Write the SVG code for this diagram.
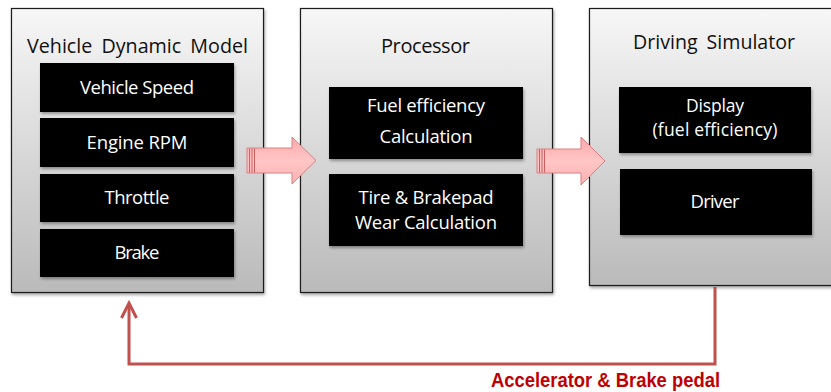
<svg xmlns="http://www.w3.org/2000/svg" width="831" height="392" viewBox="0 0 831 392">
  <defs>
    <linearGradient id="panelFill" x1="0" y1="0" x2="0" y2="1">
      <stop offset="0" stop-color="#f7f7f7"/>
      <stop offset="1" stop-color="#bababa"/>
    </linearGradient>
    <linearGradient id="pinkFill" x1="0" y1="0" x2="0" y2="1">
      <stop offset="0" stop-color="#ffa8a8"/>
      <stop offset="0.5" stop-color="#ffc6c6"/>
      <stop offset="1" stop-color="#ffb0b0"/>
    </linearGradient>
    <filter id="shadow" x="-5%" y="-5%" width="115%" height="115%">
      <feGaussianBlur in="SourceAlpha" stdDeviation="1.5"/>
      <feOffset dx="1" dy="2" result="b"/>
      <feComponentTransfer><feFuncA type="linear" slope="0.35"/></feComponentTransfer>
      <feMerge><feMergeNode/><feMergeNode in="SourceGraphic"/></feMerge>
    </filter>
  </defs>
  <style>
    .panel { fill: url(#panelFill); stroke: #1a1a1a; stroke-width: 1.2; }
    .cell { fill: #000000; }
    .title { font-family: "Open Sans", "Noto Sans", "DejaVu Sans", sans-serif; font-size: 20px; fill: #111111; text-anchor: middle; }
    .label { font-family: "Open Sans", "Noto Sans", "DejaVu Sans", sans-serif; font-size: 18.5px; fill: #ffffff; text-anchor: middle; }
    .small { font-size: 17.5px; }
    .blockArrow { fill: url(#pinkFill); stroke: #d98080; stroke-width: 1; }
    .stripe { stroke: #c86060; stroke-width: 1; }
    .feedback { fill: none; stroke: #c0504d; stroke-width: 3; stroke-linejoin: miter; }
    .feedText { font-family: "Liberation Sans", Arial, sans-serif; font-weight: bold; font-size: 19.5px; fill: #c00000; }
  </style>

  <!-- Vehicle dynamic model -->
  <g id="vehicle-dynamic-model">
    <rect class="panel" x="11.5" y="8.5" width="252" height="284" filter="url(#shadow)"/>
    <text class="title" x="137.5" y="53" textLength="221" lengthAdjust="spacingAndGlyphs" word-spacing="4">Vehicle Dynamic Model</text>
    <g filter="url(#shadow)">
      <rect class="cell" x="40" y="63" width="194" height="49"/>
      <rect class="cell" x="40" y="118" width="194" height="49"/>
      <rect class="cell" x="40" y="174" width="194" height="48"/>
      <rect class="cell" x="40" y="229" width="194" height="48"/>
    </g>
    <text class="label" x="137" y="94" textLength="114">Vehicle Speed</text>
    <text class="label" x="137" y="149" textLength="101">Engine RPM</text>
    <text class="label" x="137" y="204" textLength="65">Throttle</text>
    <text class="label" x="137" y="259" textLength="45">Brake</text>
  </g>

  <!-- Processor -->
  <g id="processor">
    <rect class="panel" x="300.5" y="8.5" width="252" height="284" filter="url(#shadow)"/>
    <text class="title" x="425.5" y="53" textLength="89">Processor</text>
    <g filter="url(#shadow)">
      <rect class="cell" x="329" y="87" width="194" height="72"/>
      <rect class="cell" x="329" y="174" width="194" height="72"/>
    </g>
    <text class="label" x="426" y="112" textLength="118">Fuel efficiency</text>
    <text class="label" x="426" y="143" textLength="93">Calculation</text>
    <text class="label" x="426" y="204" textLength="135">Tire &amp; Brakepad</text>
    <text class="label" x="426" y="229" textLength="142">Wear Calculation</text>
  </g>

  <!-- Driving simulator -->
  <g id="driving-simulator">
    <rect class="panel" x="589.5" y="8.5" width="260" height="277" filter="url(#shadow)"/>
    <text class="title" x="714" y="49" textLength="162" lengthAdjust="spacingAndGlyphs" word-spacing="4">Driving Simulator</text>
    <g filter="url(#shadow)">
      <rect class="cell" x="619" y="87" width="192" height="66"/>
      <rect class="cell" x="620" y="169" width="192" height="66"/>
    </g>
    <text class="label small" x="715" y="112" textLength="58">Display</text>
    <text class="label small" x="715" y="136" textLength="125">(fuel efficiency)</text>
    <text class="label" x="715" y="208" textLength="49">Driver</text>
  </g>

  <!-- Connectors -->
  <g id="connectors">
    <!-- model to processor -->
    <g id="arrow-model-processor">
      <path class="blockArrow" d="M247,148 L292,148 L292,137 L316,160.5 L292,184 L292,173 L247,173 Z"/>
      <line class="stripe" x1="249.5" y1="148.5" x2="249.5" y2="172.5"/>
      <line class="stripe" x1="252" y1="148.5" x2="252" y2="172.5"/>
      <line class="stripe" x1="254.5" y1="148.5" x2="254.5" y2="172.5"/>
    </g>
    <!-- processor to simulator -->
    <g id="arrow-processor-simulator">
      <path class="blockArrow" d="M537,149 L581,149 L581,137 L605,161 L581,185 L581,173 L537,173 Z"/>
      <line class="stripe" x1="539.5" y1="149.5" x2="539.5" y2="172.5"/>
      <line class="stripe" x1="542" y1="149.5" x2="542" y2="172.5"/>
      <line class="stripe" x1="544.5" y1="149.5" x2="544.5" y2="172.5"/>
    </g>
    <!-- pedal feedback loop -->
    <g id="feedback-loop">
      <path class="feedback" d="M715,287 L715,364 L129,364 L129,304"/>
      <path class="feedback" d="M121.5,318 L129,303 L136.5,318"/>
      <text class="feedText" x="491" y="387" textLength="229" lengthAdjust="spacingAndGlyphs">Accelerator &amp; Brake pedal</text>
    </g>
  </g>
</svg>
